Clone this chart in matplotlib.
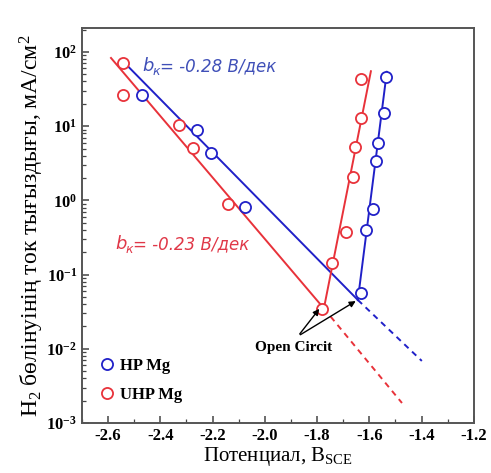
import matplotlib
matplotlib.use("Agg")
import matplotlib.pyplot as plt
import numpy as np

plt.rcParams['font.family'] = ['Liberation Serif', 'DejaVu Serif']
plt.rcParams['mathtext.fontset'] = 'custom'
plt.rcParams['mathtext.rm'] = 'Liberation Serif'
plt.rcParams['mathtext.it'] = 'Liberation Serif:italic'
plt.rcParams['mathtext.bf'] = 'Liberation Serif:bold'

# HP Mg measured points
hp_E = [-2.470, -2.260, -2.206, -2.076, -1.632, -1.613, -1.586, -1.575, -1.567, -1.544, -1.536]
hp_i = [26, 8.9, 4.35, 0.81, 0.056, 0.40, 0.77, 3.4, 5.9, 15, 46]
# UHP Mg measured points
uhp_E = [-2.543, -2.543, -2.329, -2.275, -2.141, -1.782, -1.743, -1.690, -1.663, -1.655, -1.632, -1.632]
uhp_i = [71, 26, 10.4, 5.1, 0.9, 0.034, 0.143, 0.375, 2.07, 5.2, 12.9, 43]

# Fit lines (cathodic Tafel, extrapolation, anodic)
hp_fit_E = [-2.551, -1.644]
hp_fit_i = [80, 0.0455]
hp_ext_E = [-1.644, -1.399]
hp_ext_i = [0.0455, 0.00686]
hp_an_E = [-1.644, -1.533]
hp_an_i = [0.0455, 54]

uhp_fit_E = [-2.589, -1.774]
uhp_fit_i = [83, 0.035]
uhp_ext_E = [-1.774, -1.475]
uhp_ext_i = [0.035, 0.00186]
uhp_an_E = [-1.774, -1.594]
uhp_an_i = [0.035, 55]

hp_slope_label = '-0.28'
uhp_slope_label = '-0.23'

xticks = [-2.6, -2.4, -2.2, -2.0, -1.8, -1.6, -1.4, -1.2]
xticklabels = ['-2.6', '-2.4', '-2.2', '-2.0', '-1.8', '-1.6', '-1.4', '-1.2']
yticks = [1e-3, 1e-2, 1e-1, 1e0, 1e1, 1e2]
yticklabels = [r'$\mathbf{10^{-3}}$', r'$\mathbf{10^{-2}}$', r'$\mathbf{10^{-1}}$',
               r'$\mathbf{10^{0}}$', r'$\mathbf{10^{1}}$', r'$\mathbf{10^{2}}$']

blue = '#2020c8'
red = '#e8323a'
blue_txt = '#4050b8'
red_txt = '#e03848'

fig = plt.figure(figsize=(4.91, 4.73), dpi=100)
ax = fig.add_axes([0.167, 0.1057, 0.798, 0.835])

ax.plot(hp_fit_E, hp_fit_i, color=blue, lw=1.4)
ax.plot(hp_ext_E, hp_ext_i, color=blue, lw=1.4, ls=(0, (3, 2.5)))
ax.plot(hp_an_E, hp_an_i, color=blue, lw=1.4)
ax.plot(uhp_fit_E, uhp_fit_i, color=red, lw=1.4)
ax.plot(uhp_ext_E, uhp_ext_i, color=red, lw=1.4, ls=(0, (3, 2.5)))
ax.plot(uhp_an_E, uhp_an_i, color=red, lw=1.4)

ax.plot(hp_E, hp_i, 'o', mfc='white', mec=blue, mew=1.3, ms=8, ls='none', label='HP Mg')
ax.plot(uhp_E, uhp_i, 'o', mfc='white', mec=red, mew=1.3, ms=8, ls='none', label='UHP Mg')

ax.set_yscale('log')
ax.set_xlim(-2.7, -1.2)
ax.set_ylim(1e-3, 2.1e2)
ax.set_xticks(xticks)
ax.set_xticklabels(xticklabels, fontweight='bold', fontsize=12)
ax.set_xticks(np.arange(-2.7, -1.19, 0.1), minor=True)
ax.set_yticks(yticks)
ax.set_yticklabels(yticklabels, fontsize=12)
ax.tick_params(which='both', direction='in', color='#444444')
ax.tick_params(which='major', length=5, width=1.1)
ax.tick_params(which='minor', length=3, width=0.9)
for s in ax.spines.values():
    s.set_color('#555555')
    s.set_linewidth(1.4)

ax.set_xlabel(r'Потенциал, B$_{\mathrm{SCE}}$', fontsize=15, labelpad=1)
ax.set_ylabel(r'H$_2$ бөлінуінің ток тығыздығы, мА/см$^2$', fontsize=17, labelpad=0)


def slope_label(x, y, value, color):
    kw = dict(color=color, style='italic', family=['DejaVu Sans'], va='baseline')
    ax.annotate('b', xy=(x, y), xycoords='data', fontsize=13, **kw)
    ax.annotate('к', xy=(x, y), xycoords='data', xytext=(7.5, -2.5),
                textcoords='offset points', fontsize=9, **kw)
    ax.annotate('= ' + value + ' В/дек', xy=(x, y), xycoords='data', xytext=(13, 0),
                textcoords='offset points', fontsize=12, **kw)


slope_label(-2.470, 55, hp_slope_label, blue_txt)
slope_label(-2.574, 0.22, uhp_slope_label, red_txt)

legend = ax.legend(loc='lower left', bbox_to_anchor=(0.0, 0.012), frameon=False,
                   prop={'family': 'Liberation Serif', 'weight': 'bold', 'size': 12},
                   handletextpad=0.2, labelspacing=0.8, handlelength=1.2)

ax.annotate('', xy=(-1.785, 0.037), xytext=(-1.873, 0.0148),
            arrowprops=dict(arrowstyle='-|>', color='black', lw=1.0, mutation_scale=9))
ax.annotate('', xy=(-1.643, 0.046), xytext=(-1.873, 0.0148),
            arrowprops=dict(arrowstyle='-|>', color='black', lw=1.0, mutation_scale=9))
ax.text(-1.89, 0.0127, 'Open Circit', fontweight='bold', fontsize=11,
        ha='center', va='top')

fig.savefig('out.png', dpi=100)
